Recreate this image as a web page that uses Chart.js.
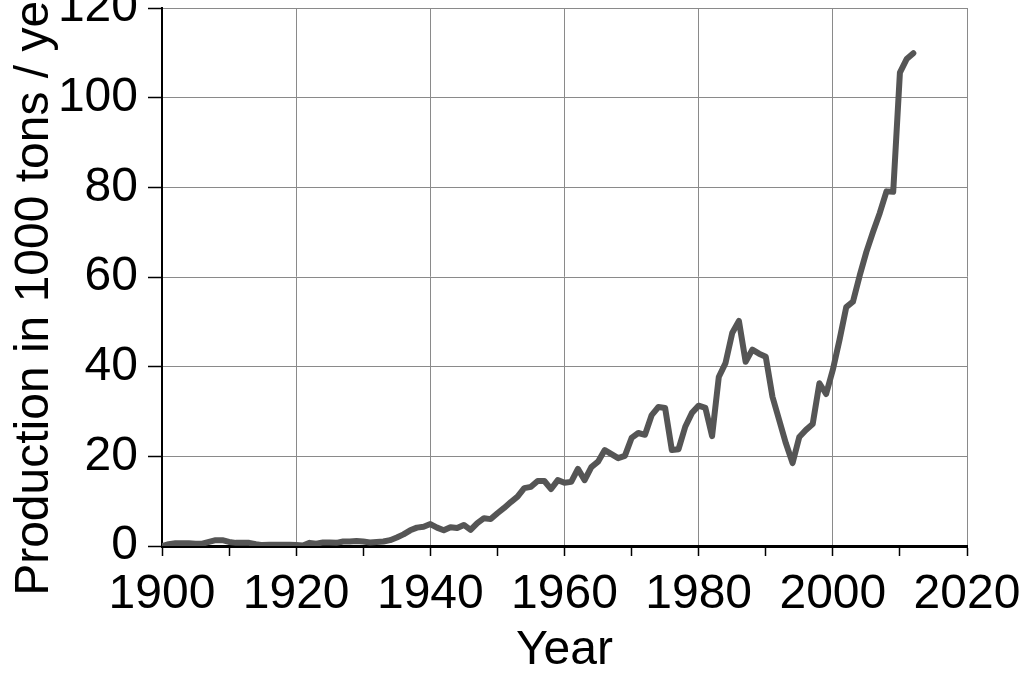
<!DOCTYPE html>
<html>
<head>
<meta charset="utf-8">
<script src="https://cdn.jsdelivr.net/npm/chart.js@4.4.0/dist/chart.umd.min.js"></script>
<style>
  body { margin: 0; background: #fff; }
</style>
</head>
<body>
<canvas id="grafico" width="1024" height="681"></canvas>
<script>
// Años y producción (1000 t / año)
var years = [1900, 1901, 1902, 1903, 1904, 1905, 1906, 1907, 1908, 1909,
  1910, 1911, 1912, 1913, 1914, 1915, 1916, 1917, 1918, 1919,
  1920, 1921, 1922, 1923, 1924, 1925, 1926, 1927, 1928, 1929,
  1930, 1931, 1932, 1933, 1934, 1935, 1936, 1937, 1938, 1939,
  1940, 1941, 1942, 1943, 1944, 1945, 1946, 1947, 1948, 1949,
  1950, 1951, 1952, 1953, 1954, 1955, 1956, 1957, 1958, 1959,
  1960, 1961, 1962, 1963, 1964, 1965, 1966, 1967, 1968, 1969,
  1970, 1971, 1972, 1973, 1974, 1975, 1976, 1977, 1978, 1979,
  1980, 1981, 1982, 1983, 1984, 1985, 1986, 1987, 1988, 1989,
  1990, 1991, 1992, 1993, 1994, 1995, 1996, 1997, 1998, 1999,
  2000, 2001, 2002, 2003, 2004, 2005, 2006, 2007, 2008, 2009,
  2010, 2011, 2012];

var production = [0, 0.4, 0.6, 0.6, 0.6, 0.5, 0.5, 0.9, 1.3, 1.3,
  0.9, 0.7, 0.7, 0.7, 0.4, 0.2, 0.3, 0.3, 0.3, 0.3,
  0.2, 0.1, 0.7, 0.5, 0.8, 0.8, 0.7, 1.0, 1.0, 1.1,
  1.0, 0.8, 0.9, 1.0, 1.3, 1.9, 2.6, 3.5, 4.1, 4.3,
  4.9, 4.1, 3.5, 4.2, 4.0, 4.7, 3.6, 5.1, 6.2, 6.0,
  7.3, 8.5, 9.8, 11.0, 12.9, 13.2, 14.5, 14.5, 12.7, 14.7,
  14.1, 14.3, 17.2, 14.7, 17.6, 18.8, 21.4, 20.5, 19.6, 20.1,
  24.1, 25.2, 24.8, 29.2, 31.0, 30.8, 21.4, 21.6, 26.6, 29.7,
  31.3, 30.8, 24.5, 37.7, 40.8, 47.5, 50.2, 41.1, 43.8, 42.9,
  42.2, 33.3, 28.1, 22.9, 18.5, 24.3, 25.9, 27.2, 36.3, 33.9,
  39.3, 46.0, 53.3, 54.5, 60.3, 65.6, 70.1, 74.3, 79.1, 79.0,
  105.6, 108.6, 109.9];

var xLabelYears = [1900, 1920, 1940, 1960, 1980, 2000, 2020];
var yTicks = [0, 20, 40, 60, 80, 100, 120];

var puntos = years.map(function(y, i) { return { x: y, y: production[i] }; });

var fuente = "'Liberation Sans', Arial, Helvetica, sans-serif";
var grafico = document.getElementById("grafico");

new Chart(grafico, {
  type: "line",
  data: {
    datasets: [{
      data: puntos,
      borderColor: "#555555",
      borderWidth: 6,
      pointRadius: 0,
      tension: 0,
      fill: false,
      borderJoinStyle: "round",
      borderCapStyle: "round"
    }]
  },
  options: {
    responsive: false,
    animation: false,
    layout: { padding: { top: 8, right: 57, left: 0, bottom: 0 } },
    plugins: { legend: { display: false }, tooltip: { enabled: false } },
    scales: {
      x: {
        type: "linear",
        min: 1900,
        max: 2020,
        afterFit: function(scale) {
          scale.height = 135;
          scale.paddingLeft = 0;
          scale.paddingRight = 0;
        },
        ticks: {
          stepSize: 10,
          autoSkip: false,
          maxRotation: 0,
          padding: 10,
          color: "#000",
          font: { family: fuente, size: 48 },
          callback: function(v) { return xLabelYears.indexOf(v) >= 0 ? String(v) : ""; }
        },
        grid: {
          color: function(ctx) {
            return ctx.tick && xLabelYears.indexOf(ctx.tick.value) >= 0 ? "#8a8a8a" : "rgba(0,0,0,0)";
          },
          lineWidth: 1,
          tickColor: "#000",
          tickLength: 10,
          tickWidth: 1.5
        },
        border: { color: "#000", width: 3 },
        title: {
          display: true,
          text: "Year",
          color: "#000",
          font: { family: fuente, size: 48 },
          padding: { top: 0, bottom: 1 }
        }
      },
      y: {
        min: 0,
        max: 120,
        afterFit: function(scale) {
          scale.width = 162;
          scale.paddingTop = 0;
          scale.paddingBottom = 0;
        },
        ticks: {
          stepSize: 20,
          padding: 10,
          color: "#000",
          font: { family: fuente, size: 48 },
          callback: function(v) { return yTicks.indexOf(v) >= 0 ? String(v) : ""; }
        },
        grid: {
          color: "#8a8a8a",
          lineWidth: 1,
          tickColor: "#000",
          tickLength: 14,
          tickWidth: 1.5
        },
        border: { color: "#000", width: 2 },
        title: {
          display: true,
          text: "Production in 1000 tons / year",
          color: "#000",
          font: { family: fuente, size: 48 },
          padding: { top: 6, bottom: 0 }
        }
      }
    }
  }
});
</script>
</body>
</html>
